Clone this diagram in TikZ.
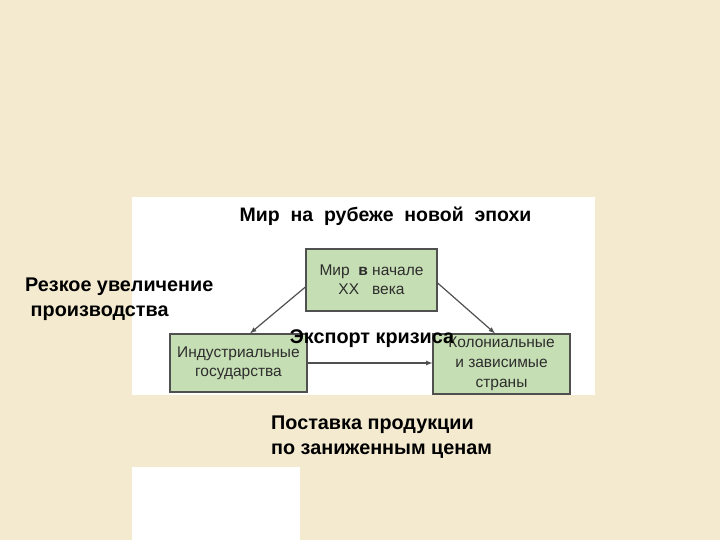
\documentclass[tikz,border=0pt]{standalone}
\usepackage{fontspec}
\setmainfont{Liberation Sans}
\usetikzlibrary{arrows}

\definecolor{paper}{RGB}{244,234,207}
\definecolor{boxgreen}{RGB}{198,222,180}
\definecolor{boxline}{RGB}{80,80,80}
\definecolor{inktext}{RGB}{45,45,45}

\begin{document}
\begin{tikzpicture}[x=1pt, y=-1pt]
    \tikzset{panel/.style={fill=white, draw=none}}
    \tikzset{block/.style={draw=boxline, fill=boxgreen, line width=1.2pt, align=center,
        font=\fontsize{15.5}{19}\selectfont, text=inktext, inner sep=0pt}}
    \tikzset{caption/.style={font=\bfseries\fontsize{19.8}{25}\selectfont, align=left, inner sep=0pt}}

    % page
    \fill[paper] (0,0) rectangle (720,540);
    \useasboundingbox (0,0) rectangle (720,540);

    % white panels
    \fill[panel] (132,197) rectangle (595,395);
    \fill[panel] (132,467) rectangle (300,540);

    % title
    \node (title) at (385.5,216) [font=\bfseries\fontsize{19.5}{22}\selectfont, inner sep=0pt]
        {Мир\ \ на\ \ рубеже\ \ новой\ \ эпохи};

    % blocks
    \node (world) at (371.5,280) [block, minimum width=131pt, minimum height=62pt]
        {Мир \ \textbf{в} начале\\XX \ \ века};
    \node (industry) at (238.5,363) [block, minimum width=137pt, minimum height=58pt]
        {Индустриальные\\государства};
    \node (colonies) at (501.5,364) [block, minimum width=137pt, minimum height=60pt,
        font=\fontsize{15.5}{20}\selectfont]
        {Колониальные\\и зависимые\\страны};

    % links
    \begin{scope}[>=latex, draw=boxline, line width=1.2pt]
      \draw[->] (world.west |- 0,287) -- (industry.north -| 250,0);
      \draw[->] (world.east |- 0,283) -- (colonies.north -| 495,0);
      \draw[->] (industry.east |- 0,363) -- (colonies.west |- 0,363);
    \end{scope}

    % labels
    \node (growth) at (25,299) [caption, anchor=west] {Резкое увеличение\\\ производства};
    \node (export) at (372,339) [font=\bfseries\fontsize{19.8}{22}\selectfont, inner sep=0pt] {Экспорт кризиса};
    \node (supply) at (271,437) [caption, anchor=west] {Поставка продукции\\по заниженным ценам};

  \end{tikzpicture}
\end{document}
